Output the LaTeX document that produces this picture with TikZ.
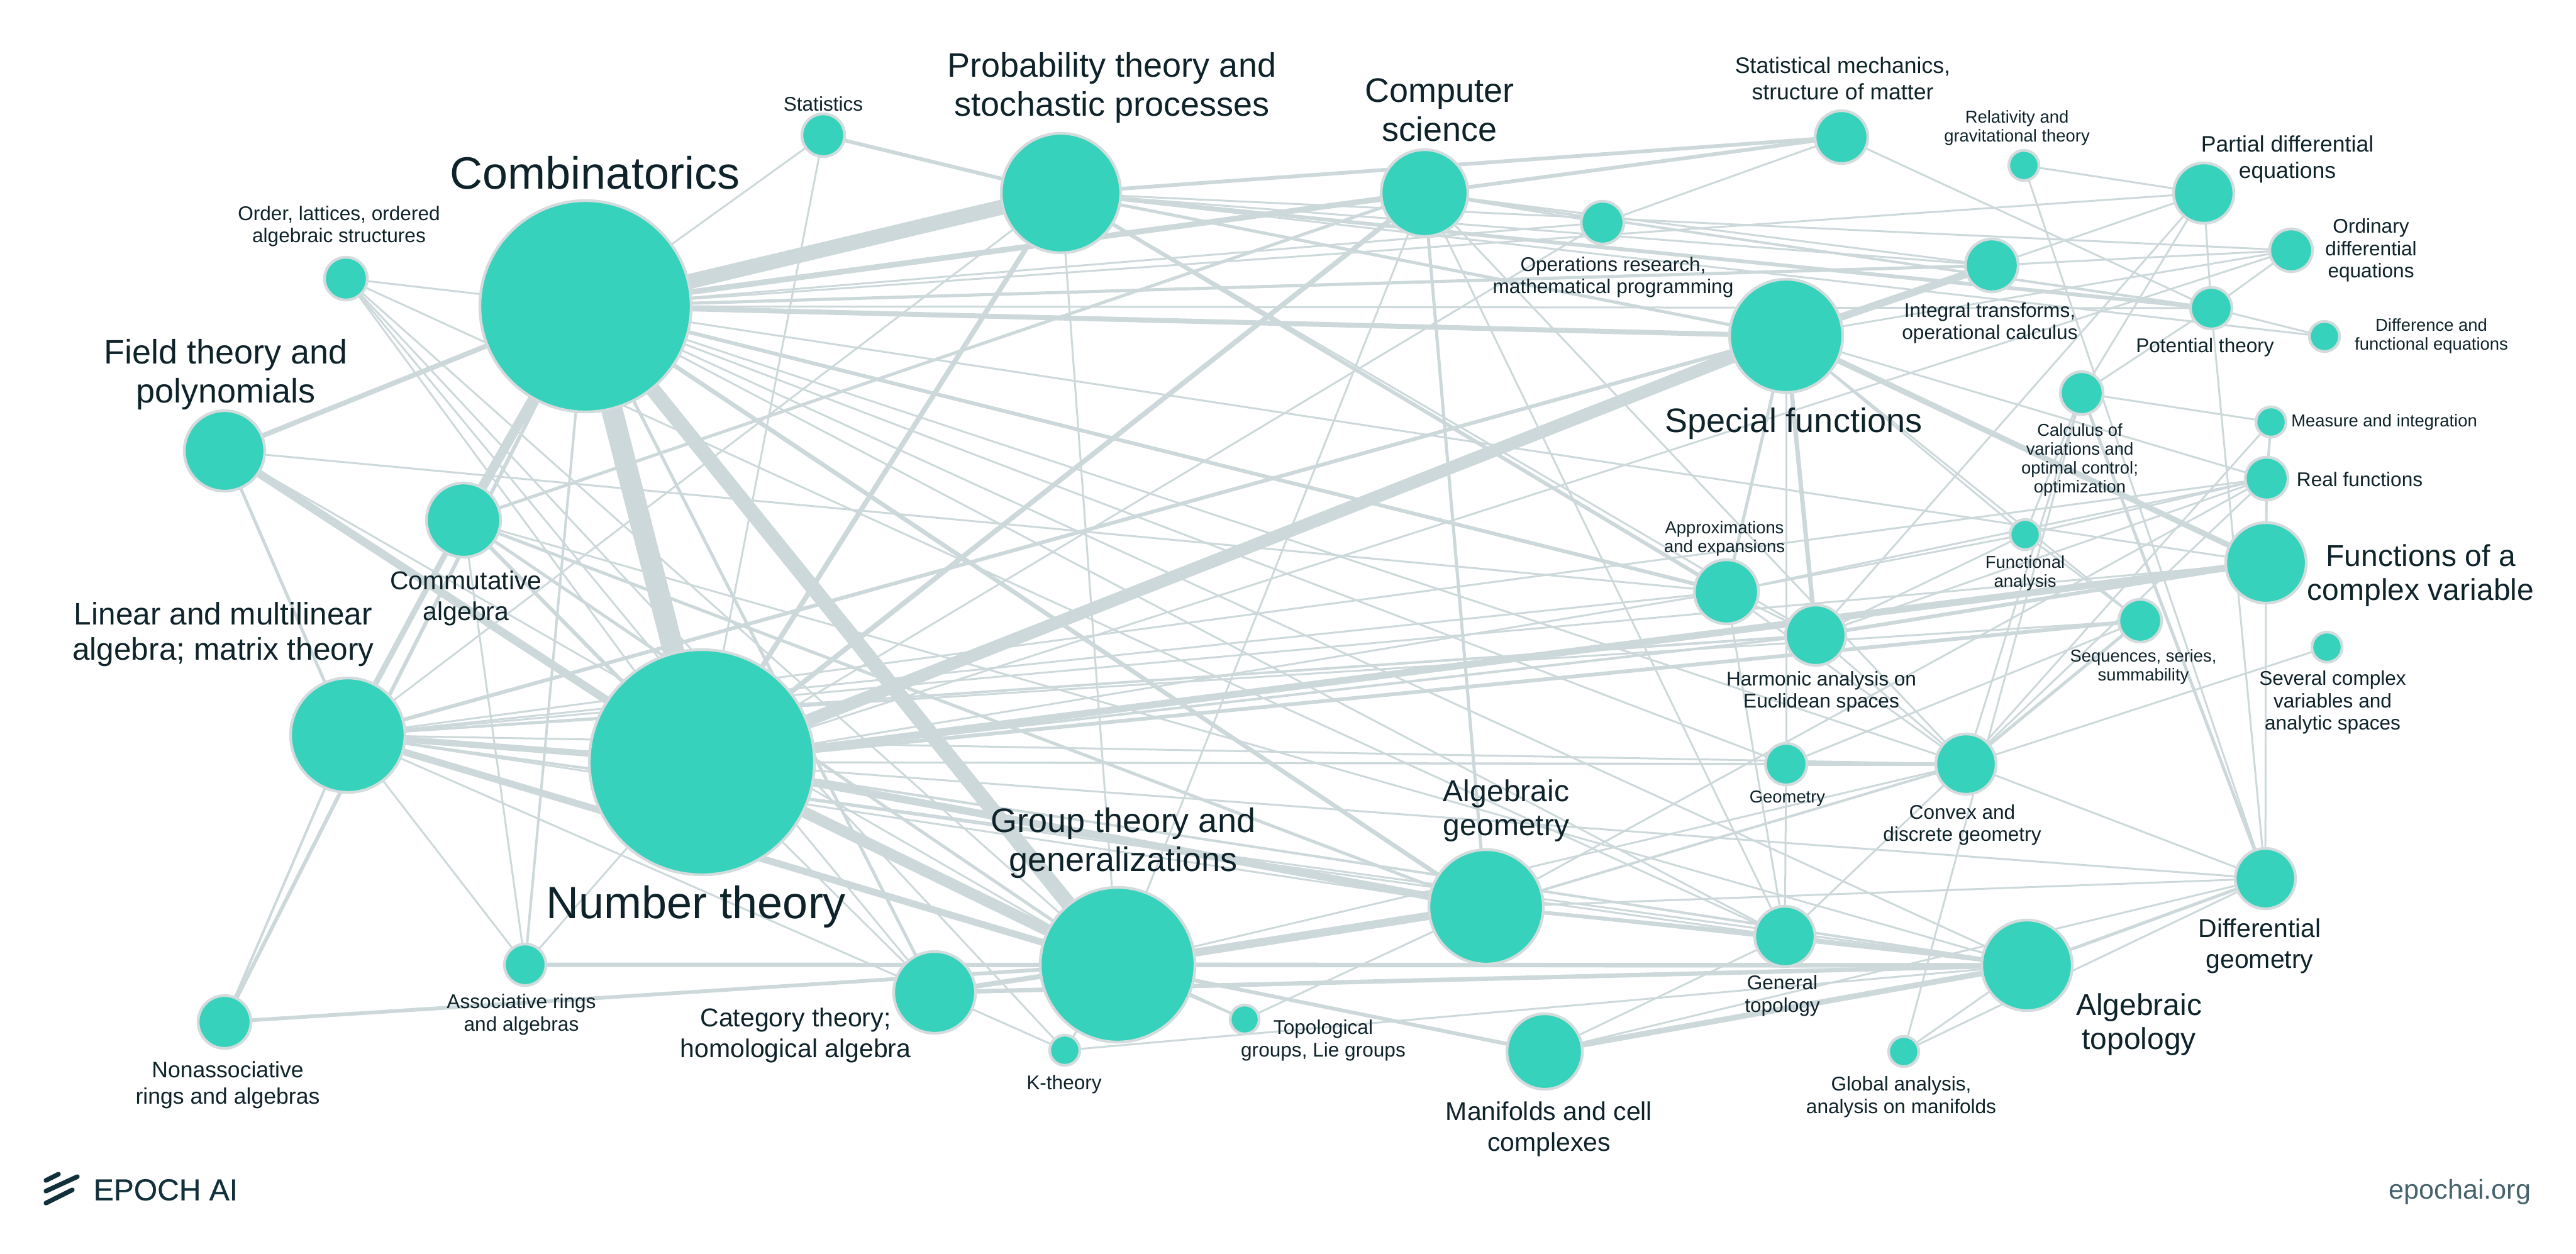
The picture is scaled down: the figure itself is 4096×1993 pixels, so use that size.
\documentclass[tikz,border=0pt]{standalone}
\usepackage{fontspec}
\setmainfont{Liberation Sans}
\newfontfamily\logofont[FakeBold=0.5]{Liberation Sans}
\usetikzlibrary{backgrounds}
\definecolor{topicfill}{HTML}{37D2BB}
\definecolor{topicline}{HTML}{D3DBDC}
\definecolor{linkgrey}{HTML}{CDD8DA}
\definecolor{labelink}{HTML}{0E2229}
\definecolor{logoink}{HTML}{12303A}
\definecolor{siteink}{HTML}{46626C}
\tikzset{%
  topic/.style={
    circle,
    draw=topicline,
    fill=topicfill,
    line width=1.1pt,
    inner sep=0pt,
    outer sep=0pt,
    minimum size=#1*0.5pt+0.5pt
  },
  link/.style={
    draw=linkgrey,
    line width=#1*0.25pt
  },
  caption/.style={
    align=center,
    inner sep=0pt,
    text=labelink
  },
  caption xl/.style={caption, font=\fontsize{18}{19}\selectfont},
  caption l/.style={caption, font=\fontsize{13.5}{15.5}\selectfont},
  caption ml/.style={caption, font=\fontsize{12.4}{14}\selectfont},
  caption m/.style={caption, font=\fontsize{12}{13.6}\selectfont},
  caption s/.style={caption, font=\fontsize{10.25}{12.2}\selectfont},
  caption xs/.style={caption, font=\fontsize{8.9}{10.5}\selectfont},
  caption t/.style={caption, font=\fontsize{7.9}{8.9}\selectfont},
  caption u/.style={caption, font=\fontsize{6.85}{7.5}\selectfont},
}
\begin{document}
\begin{tikzpicture}[x=0.25pt, y=-0.25pt]
        \useasboundingbox (0,0) rectangle (4096,1993);

        %%%%%%%%%%%%%%%%%%%%%%%%%%%%%%%%%%%%%%%%%%%%
        % Topic nodes
        %%%%%%%%%%%%%%%%%%%%%%%%%%%%%%%%%%%%%%%%%%%%
        \foreach \m/\x/\y/\r in {cmb/931/487/167, num/1116/1212/178, grp/1777/1534/122,
            lin/553/1169/90, fld/357/717/63, com/737/827/58, ord/550/443/33, sta/1309/215/33,
            pro/1687/307/94, cs/2265/307/68, ops/2548/354/33, smech/2928/218/41, rel/3218/263/23,
            pde/3504/307/47, ode/3643/398/33, int/3167/422/41, pot/3516/490/32, dif/3696/535/23,
            spe/2840/534/89, cal/3310/625/33, mea/3611/671/23, rea/3604/761/33, fnc/3220/850/23,
            cpx/3603/895/63, app/2745/941/50, har/2887/1010/47, seq/3403/987/33, sev/3700/1029/23,
            geo/2840/1215/32, cvx/3126/1215/47, dg/3602/1397/47, at/3223/1535/71, gen/2838/1489/47,
            glo/3027/1672/23, man/2456/1672/59, ag/2363/1442/90, top/1979/1621/22, kth/1693/1670/23,
            cat/1486/1578/64, ass/835/1534/32, non/357/1625/41}
            \node [topic=\r] (\m) at (\x,\y) {};

        %%%%%%%%%%%%%%%%%%%%%%%%%%%%%%%%%%%%%%%%%%%%
        % Connecting
        %%%%%%%%%%%%%%%%%%%%%%%%%%%%%%%%%%%%%%%%%%%%
        \begin{pgfonlayer}{background}
        % Combinatorics
        \foreach \a/\b/\w in {cmb/pro/24, cmb/cs/9, cmb/ops/3, cmb/pde/3, cmb/int/5, cmb/pot/3,
            cmb/spe/8, cmb/cpx/3, cmb/app/6, cmb/cvx/3, cmb/geo/3, cmb/gen/3, cmb/at/3, cmb/ag/7,
            cmb/grp/24, cmb/num/34, cmb/cat/5, cmb/com/15, cmb/non/6, cmb/fld/8, cmb/ord/3,
            cmb/sta/3, cmb/ass/4}
            \draw [link=\w] (\a) -- (\b);

        % Number theory
        \foreach \a/\b/\w in {num/spe/20, num/cs/8, num/pro/8, num/cpx/11, num/seq/6, num/ode/3,
            num/dg/3, num/cvx/3, num/geo/3, num/app/3, num/har/4, num/ag/12, num/grp/18, num/lin/10,
            num/fld/13, num/com/6, num/sta/3, num/ord/3, num/cat/3, num/top/3, num/ass/3, num/ops/3,
            num/at/4}
            \draw [link=\w] (\a) -- (\b);

        % Algebra on the left
        \foreach \a/\b/\w in {lin/grp/11, lin/com/9, lin/fld/5, lin/spe/6, lin/cpx/3, lin/har/4,
            lin/seq/3, lin/app/3, lin/rea/3, lin/cvx/3, lin/gen/3, lin/ag/3, lin/at/3, lin/cat/3,
            lin/ass/3, lin/non/4, lin/pro/3, fld/grp/3, fld/app/3, com/cs/5, com/grp/5,
            com/ag/5, com/at/3, com/ass/3, ord/gen/3, ord/cat/3, ord/grp/3, ord/kth/3, sta/pro/6,
            ass/at/7, non/grp/6, cat/at/7, cat/grp/8, cat/ag/4, cat/kth/3}
            \draw [link=\w] (\a) -- (\b);

        % Probability, computer science, operations research
        \foreach \a/\b/\w in {pro/smech/6, pro/ode/3, pro/pot/6, pro/dif/3, pro/int/3, pro/spe/5,
            pro/app/6, pro/har/3, pro/grp/3, cs/smech/6, cs/ops/3, cs/grp/3, cs/ag/5, cs/gen/3,
            cs/cvx/3, cs/pot/4, cs/int/3, ops/smech/3}
            \draw [link=\w] (\a) -- (\b);

        % Analysis on the right
        \foreach \a/\b/\w in {spe/int/12, spe/pde/3, spe/ode/3, spe/rea/3, spe/cpx/9, spe/fnc/3,
            spe/seq/3, spe/har/7, spe/geo/3, spe/app/5, smech/pot/3, rel/pde/3, rel/dg/3, pde/pot/3,
            pde/cal/3, pde/har/3, ode/pot/3, ode/int/3, pot/dif/3, pot/cal/3, pot/dg/3, cal/mea/3,
            cal/dg/5, cal/fnc/3, cal/cvx/3, cal/glo/3, mea/rea/4, mea/cvx/3, rea/cpx/4, rea/fnc/3,
            rea/cvx/3, rea/har/3, rea/app/3, cpx/dg/3, cpx/har/6, fnc/app/3, fnc/har/3, fnc/seq/3,
            seq/cvx/5, app/har/3, app/cvx/3, app/gen/3, har/cvx/3, sev/cvx/3}
            \draw [link=\w] (\a) -- (\b);

        % Geometry and topology
        \foreach \a/\b/\w in {geo/cvx/6, geo/gen/3, geo/seq/3, cvx/dg/3, cvx/gen/3, cvx/grp/3,
            cvx/ag/4, grp/ag/13, grp/at/7, grp/man/6, grp/top/3, grp/kth/3, ag/gen/6, ag/at/3,
            ag/dg/3, ag/top/3, ag/rea/3, man/at/9, man/gen/3, man/dg/3, gen/at/6, at/dg/5, at/glo/3,
            glo/dg/3, kth/at/3}
            \draw [link=\w] (\a) -- (\b);
        \end{pgfonlayer}

        %%%%%%%%%%%%%%%%%%%%%%%%%%%%%%%%%%%%%%%%%%%%
        % Labeling topics
        %%%%%%%%%%%%%%%%%%%%%%%%%%%%%%%%%%%%%%%%%%%%
        \foreach \m/\x/\y/\t in {cmb/946/275/{Combinatorics}, num/1107/1442/{Number theory}}
            \node [caption xl] (\m-text) at (\x,\y) {\t};

        \foreach \m/\x/\y/\t in {fld/359/596/{Field theory and\\polynomials},
            pro/1768/140/{Probability theory and\\stochastic processes},
            cs/2289/175/{Computer\\science},
            spe/2852/674/{Special functions},
            grp/1786/1341/{Group theory and\\generalizations}}
            \node [caption l] (\m-text) at (\x,\y) {\t};

        \node [caption ml] (lin-text) at (355,1009) {Linear and multilinear\\algebra; matrix theory};

        \foreach \m/\x/\y/\t in {cpx/3849/915/{Functions of a\\complex variable},
            ag/2395/1289/{Algebraic\\geometry},
            at/3401/1629/{Algebraic\\topology}}
            \node [caption m] (\m-text) at (\x,\y) {\t};

        \foreach \m/\x/\y/\t in {com/741/951/{Commutative\\algebra},
            cat/1265/1646/{Category theory;\\homological algebra},
            man/2463/1795/{Manifolds and cell\\complexes},
            dg/3593/1504/{Differential\\geometry}}
            \node [caption s] (\m-text) at (\x,\y) {\t};

        \foreach \m/\x/\y/\t in {smech/2930/125/{Statistical mechanics,\\structure of matter},
            pde/3637/253/{Partial differential\\equations},
            non/362/1725/{Nonassociative\\rings and algebras}}
            \node [caption xs] (\m-text) at (\x,\y) {\t};

        \foreach \m/\x/\y/\t in {ord/539/360/{Order, lattices, ordered\\algebraic structures},
            sta/1309/165/{Statistics},
            ass/829/1613/{Associative rings\\and algebras},
            ops/2565/441/{Operations research,\\mathematical programming},
            int/3164/514/{Integral transforms,\\operational calculus},
            ode/3770/398/{Ordinary\\differential\\equations},
            pot/3506/552/{Potential theory},
            rea/3752/762/{Real functions},
            har/2896/1100/{Harmonic analysis on\\Euclidean spaces},
            sev/3709/1117/{Several complex\\variables and\\analytic spaces},
            cvx/3120/1312/{Convex and\\discrete geometry},
            gen/2834/1583/{General\\topology},
            glo/3023/1744/{Global analysis,\\analysis on manifolds},
            top/2104/1654/{Topological\\groups, Lie groups},
            kth/1692/1724/{K-theory}}
            \node [caption t] (\m-text) at (\x,\y) {\t};

        \foreach \m/\x/\y/\t in {rel/3207/203/{Relativity and\\gravitational theory},
            dif/3866/534/{Difference and\\functional equations},
            mea/3791/671/{Measure and integration},
            cal/3307/731/{Calculus of\\variations and\\optimal control;\\optimization},
            fnc/3220/911/{Functional\\analysis},
            app/2742/856/{Approximations\\and expansions},
            seq/3408/1060/{Sequences, series,\\summability},
            geo/2842/1270/{Geometry}}
            \node [caption u] (\m-text) at (\x,\y) {\t};

        %%%%%%%%%%%%%%%%%%%%%%%%%%%%%%%%%%%%%%%%%%%%
        % Logo and site
        %%%%%%%%%%%%%%%%%%%%%%%%%%%%%%%%%%%%%%%%%%%%
        \foreach \xa/\ya/\xb/\yb in {73/1877/93/1867, 73/1894/123/1871, 73/1913/115/1892}
            \draw [logoink, line width=1.85pt, line cap=round] (\xa,\ya) -- (\xb,\yb);
        \node [anchor=west, inner sep=0pt, text=logoink, font=\logofont\fontsize{12}{13}\selectfont] (logo) at (148,1892) {EPOCH AI};
        \node [anchor=east, inner sep=0pt, text=siteink, font=\fontsize{10.8}{12}\selectfont] (site) at (4025,1895) {epochai.org};
\end{tikzpicture}
\end{document}
